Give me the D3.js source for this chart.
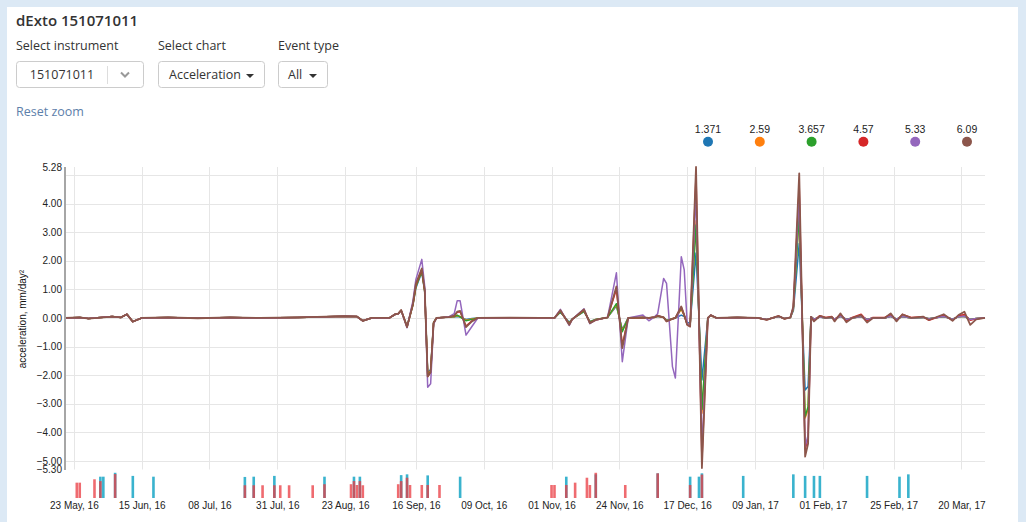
<!DOCTYPE html>
<html>
<head>
<meta charset="utf-8">
<script src="https://cdnjs.cloudflare.com/ajax/libs/d3/7.8.5/d3.min.js"></script>
<style>
  body { margin: 0; background: #dce9f5; }
  svg { display: block; }
  .ui { font-family: "Open Sans", sans-serif; fill: #333; }
  .chart text { font-family: "Liberation Sans", Arial, sans-serif; }
</style>
</head>
<body>
<svg id="page" width="1026" height="522"></svg>
<script>
// series (legend labels = sensor depth)
const seriesNames = ["1.371", "2.59", "3.657", "4.57", "5.33", "6.09"];

const dates = [
  "2016-05-20","2016-05-25","2016-05-28","2016-06-05","2016-06-08","2016-06-10","2016-06-12","2016-06-15","2016-06-24","2016-07-04",
  "2016-07-15","2016-07-25","2016-08-07","2016-08-23","2016-08-27","2016-08-29","2016-09-01","2016-09-07","2016-09-09","2016-09-10",
  "2016-09-11","2016-09-13","2016-09-15","2016-09-16","2016-09-18","2016-09-19","2016-09-20","2016-09-21","2016-09-22","2016-09-23",
  "2016-09-27","2016-09-29","2016-09-30","2016-10-01","2016-10-03","2016-10-05","2016-10-07","2016-10-18","2016-10-28","2016-11-02",
  "2016-11-04","2016-11-07","2016-11-08","2016-11-12","2016-11-14","2016-11-16","2016-11-20","2016-11-23","2016-11-25","2016-11-27",
  "2016-12-02","2016-12-04","2016-12-06","2016-12-07","2016-12-09","2016-12-10","2016-12-12","2016-12-13","2016-12-15","2016-12-16",
  "2016-12-17","2016-12-18","2016-12-20","2016-12-22","2016-12-24","2016-12-25","2016-12-27","2017-01-03","2017-01-10","2017-01-13",
  "2017-01-17","2017-01-19","2017-01-21","2017-01-22","2017-01-24","2017-01-26","2017-01-27","2017-01-28","2017-01-29","2017-01-31",
  "2017-02-02","2017-02-04","2017-02-05","2017-02-07","2017-02-09","2017-02-11","2017-02-14","2017-02-16","2017-02-18","2017-02-22",
  "2017-02-24","2017-02-26","2017-02-28","2017-03-03","2017-03-07","2017-03-09","2017-03-14","2017-03-17","2017-03-19","2017-03-21",
  "2017-03-23","2017-03-25","2017-03-28"
];

const s1371 = [
  0, 0.02, -0.02, 0.05, 0.02, 0.13, -0.13, 0, 0.02, -0.01,
  0.02, 0, 0.02, 0.06, 0.05, -0.1, 0, 0, 0.13, 0.15,
  0.26, -0.3, 0.45, 1.05, 1.6, 0.9, -1.92, -1.8, -0.15, 0,
  0.03, 0.03, 0.05, 0.03, -0.05, -0.02, 0, 0.01, 0, 0,
  0.2, -0.15, -0.04, 0.22, -0.12, -0.05, 0.02, 0.42, -0.4, 0,
  0.02, 0, 0.02, 0.05, 0.02, -0.08, -0.03, 0, 0.1, 0.05,
  -0.15, -0.2, 2.27, -2.17, 0, 0.08, 0, 0.02, 0, -0.05,
  0.05, -0.02, 0.02, 0.25, 2.6, -2.52, -2.4, 0.04, -0.04, 0.03,
  0, 0.02, -0.04, 0.06, -0.05, 0, 0.05, -0.05, 0, 0,
  0.06, -0.04, 0.05, 0, 0.02, -0.03, 0.05, -0.04, 0.04, 0.06,
  -0.05, -0.02, 0
];
const s259 = [
  0, 0.02, -0.02, 0.05, 0.02, 0.13, -0.13, 0, 0.02, -0.01,
  0.02, 0, 0.02, 0.06, 0.05, -0.1, 0, 0, 0.13, 0.15,
  0.27, -0.3, 0.45, 1.1, 1.65, 0.92, -1.97, -1.85, -0.16, 0,
  0.03, 0.04, 0.08, 0.05, -0.08, -0.04, 0, 0.01, 0, 0,
  0.22, -0.18, -0.04, 0.24, -0.14, -0.05, 0.02, 0.46, -0.44, 0,
  0.02, 0, 0.02, 0.06, 0.02, -0.1, -0.03, 0, 0.3, 0.08,
  -0.2, -0.26, 3.4, -3.33, 0, 0.08, 0, 0.02, 0, -0.05,
  0.05, -0.02, 0.02, 0.3, 3.7, -3.5, -3.2, 0.04, -0.04, 0.03,
  0, 0.02, -0.04, 0.06, -0.05, 0, 0.05, -0.05, 0, 0,
  0.06, -0.04, 0.05, 0, 0.02, -0.03, 0.05, -0.04, 0.04, 0.06,
  -0.05, -0.02, 0
];
const s3657 = [
  0, 0.02, -0.02, 0.05, 0.02, 0.13, -0.13, 0, 0.02, -0.01,
  0.02, 0, 0.02, 0.06, 0.05, -0.1, 0, 0, 0.13, 0.15,
  0.27, -0.3, 0.48, 1.1, 1.65, 0.95, -2.0, -1.88, -0.17, 0,
  0.03, 0.05, 0.1, 0.04, -0.1, -0.05, 0, 0.01, 0, 0,
  0.22, -0.18, -0.04, 0.24, -0.14, -0.05, 0.02, 0.5, -0.48, 0,
  0.02, 0, 0.03, 0.07, 0.02, -0.1, -0.03, 0, 0.34, 0.1,
  -0.22, -0.28, 3.25, -3.2, 0, 0.1, 0, 0.02, 0, -0.05,
  0.05, -0.02, 0.02, 0.32, 3.6, -3.45, -3.1, 0.04, -0.04, 0.03,
  0, 0.02, -0.04, 0.06, -0.05, 0, 0.05, -0.05, 0, 0,
  0.06, -0.04, 0.05, 0, 0.02, -0.03, 0.05, -0.04, 0.04, 0.06,
  -0.05, -0.02, 0
];
const s457 = [
  0, 0.02, -0.02, 0.05, 0.02, 0.13, -0.13, 0, 0.02, -0.01,
  0.02, 0, 0.02, 0.06, 0.05, -0.1, 0, 0, 0.13, 0.15,
  0.27, -0.32, 0.5, 1.15, 1.7, 0.97, -2.05, -1.9, -0.18, 0,
  0.03, 0.07, 0.2, 0.22, -0.28, -0.1, 0, 0.01, 0, 0,
  0.26, -0.22, -0.05, 0.28, -0.17, -0.07, 0.02, 1.0, -0.95, 0,
  0.02, 0, 0.03, 0.08, 0.02, -0.12, -0.03, 0, 0.38, 0.1,
  -0.24, -0.3, 5.0, -5.0, 0, 0.1, 0, 0.02, 0, -0.06,
  0.07, -0.03, 0.02, 0.38, 4.6, -4.6, -4.2, 0.04, -0.08, 0.08,
  0.02, 0.05, -0.06, 0.12, -0.1, 0.02, 0.13, -0.1, 0.02, 0.02,
  0.12, -0.08, 0.12, 0.02, 0.04, -0.08, 0.1, -0.08, 0.08, 0.12,
  -0.08, -0.03, 0
];
const s533 = [
  0, 0.02, -0.02, 0.05, 0.02, 0.13, -0.13, 0, 0.02, -0.01,
  0.02, 0, 0.02, 0.06, 0.05, -0.1, 0, 0, 0.13, 0.15,
  0.27, -0.34, 0.6, 1.35, 2.05, 1.1, -2.42, -2.3, -0.22, 0,
  0.03, 0.15, 0.6, 0.6, -0.6, -0.3, 0, 0.01, 0, 0,
  0.3, -0.26, -0.05, 0.32, -0.2, -0.07, 0.02, 1.58, -1.53, 0,
  0.1, -0.1, 0.05, 0.15, 1.38, 1.21, -1.7, -2.1, 2.14, 1.68,
  -0.18, -0.3, 4.4, -4.6, 0, 0.1, 0, 0.02, 0, -0.05,
  0.05, -0.02, 0.02, 0.35, 4.3, -4.5, -4.1, 0.04, -0.04, 0.03,
  0, 0.02, -0.04, 0.06, -0.05, 0, 0.05, -0.05, 0, 0,
  0.06, -0.04, 0.05, 0, 0.02, -0.03, 0.05, -0.04, 0.04, 0.06,
  -0.05, -0.02, 0
];
const s609 = [
  0, 0.02, -0.02, 0.05, 0.02, 0.13, -0.13, 0, 0.02, -0.01,
  0.02, 0, 0.02, 0.06, 0.05, -0.1, 0, 0, 0.13, 0.15,
  0.27, -0.32, 0.5, 1.2, 1.73, 0.97, -2.05, -1.9, -0.18, 0,
  0.03, 0.08, 0.22, 0.25, -0.32, -0.12, 0, 0.01, 0, 0,
  0.27, -0.24, -0.05, 0.3, -0.18, -0.07, 0.02, 1.1, -1.05, 0,
  0.02, 0, 0.03, 0.08, 0.02, -0.12, -0.03, 0, 0.4, 0.1,
  -0.24, -0.3, 5.28, -5.25, 0, 0.1, 0, 0.02, 0, -0.07,
  0.07, -0.03, 0.02, 0.4, 5.06, -4.85, -4.4, 0.04, -0.12, 0.07,
  0, 0.04, -0.12, 0.16, -0.15, 0, 0.1, -0.16, 0, 0,
  0.16, -0.12, 0.13, 0, 0.05, -0.07, 0.13, -0.1, 0.1, 0.22,
  -0.24, -0.05, 0
];
const seriesValues = [s1371, s259, s3657, s457, s533, s609];

// events strip under the chart
const redEventDates = ["2016-05-24","2016-05-25","2016-05-30","2016-06-01","2016-06-06","2016-07-20","2016-07-23","2016-07-26",
  "2016-07-30","2016-08-01","2016-08-04","2016-08-12","2016-08-16","2016-08-25","2016-08-26","2016-08-27","2016-08-28","2016-08-29",
  "2016-09-10","2016-09-11","2016-09-13","2016-09-14","2016-09-18","2016-09-20","2016-09-24","2016-11-01","2016-11-02","2016-11-06",
  "2016-11-09","2016-11-13","2016-11-14","2016-11-16","2016-11-26","2016-12-07","2016-12-18","2016-12-22"];
const redEventSize = [5.9, 5.9, 7.2, 6.5, 9.2, 4.9, 4.9, 4.9,
  4.9, 4.9, 4.9, 4.9, 5.3, 5.3, 6.5, 5.0, 6.5, 4.9,
  5.3, 6.5, 7.8, 5.0, 5.0, 5.0, 5.0, 5.0, 5.0, 5.0,
  5.9, 7.8, 5.0, 9.7, 5.0, 9.5, 5.0, 9.0];
const tealEventDates = ["2016-06-01","2016-06-02","2016-06-06","2016-06-12","2016-06-19","2016-07-20","2016-07-23","2016-07-30",
  "2016-08-16","2016-08-26","2016-08-28","2016-09-11","2016-09-13","2016-09-20","2016-10-01","2016-11-06","2016-11-16","2016-12-07",
  "2016-12-18","2016-12-21","2016-12-22","2017-01-05","2017-01-22","2017-01-26","2017-01-29","2017-01-31","2017-02-16","2017-02-27",
  "2017-03-02"];
const tealEventSize = [8.2, 8.2, 9.7, 8.5, 8.2, 8.1, 8.2, 8.5,
  8.2, 8.2, 8.2, 8.8, 9.1, 8.7, 8.2, 8.2, 9.1, 9.5,
  8.2, 8.2, 9.5, 8.5, 9.1, 8.5, 8.5, 8.5, 8.5, 8.2,
  9.1];

const xTickDates = ["2016-05-23","2016-06-15","2016-07-08","2016-07-31","2016-08-23","2016-09-16","2016-10-09",
  "2016-11-01","2016-11-24","2016-12-17","2017-01-09","2017-02-01","2017-02-25","2017-03-20"];
const yTickLabels = [-5.30, -5, -4, -3, -2, -1, 0, 1, 2, 3, 4, 5.28];

const parseDay = d3.timeParse("%Y-%m-%d");
const colors = d3.schemeCategory10;

let svg = d3.select("#page");

// white panel
svg.append("rect").attr("x", 7).attr("y", 7).attr("width", 1011).attr("height", 515).attr("fill", "#fff");

// ---- header controls
let ui = svg.append("g").attr("class", "ui");
ui.append("text").attr("x", 16).attr("y", 26).attr("font-size", 15).attr("font-weight", 600)
  .text("dExto 151071011");

let labels = [["Select instrument", 16], ["Select chart", 158], ["Event type", 278]];
labels.forEach(function(l) {
  ui.append("text").attr("x", l[1]).attr("y", 49.5).attr("font-size", 12.5).text(l[0]);
});

function button(x0, w) {
  ui.append("rect").attr("x", x0 + 0.5).attr("y", 61.5).attr("width", w).attr("height", 26)
    .attr("rx", 3).attr("fill", "#fff").attr("stroke", "#ccc");
}
button(16, 127);
ui.append("text").attr("x", 62).attr("y", 79).attr("font-size", 12.5).attr("text-anchor", "middle").text("151071011");
ui.append("line").attr("x1", 107.5).attr("x2", 107.5).attr("y1", 66).attr("y2", 84).attr("stroke", "#ddd");
ui.append("path").attr("d", "M121,72.5 L125,76.5 L129,72.5").attr("fill", "none").attr("stroke", "#999").attr("stroke-width", 2);

button(158, 106);
ui.append("text").attr("x", 169).attr("y", 79).attr("font-size", 12.5).text("Acceleration");
ui.append("path").attr("d", "M246,74 L254,74 L250,78 Z").attr("fill", "#333");

button(278, 49);
ui.append("text").attr("x", 288).attr("y", 79).attr("font-size", 12.5).text("All");
ui.append("path").attr("d", "M309,74 L317,74 L313,78 Z").attr("fill", "#333");

ui.append("text").attr("x", 16).attr("y", 116).attr("font-size", 12.5).style("fill", "#5d80aa").text("Reset zoom");

// ---- chart
let chart = svg.append("g").attr("class", "chart");

let x = d3.scaleTime()
  .domain([parseDay("2016-05-20"), parseDay("2017-03-28")])
  .range([65, 985]);
let y = d3.scaleLinear().domain([-5.30, 5.28]).range([469.5, 167]);

// grid
chart.append("g").selectAll("line").data(y.ticks(10)).enter().append("line")
  .attr("x1", 65).attr("x2", 985)
  .attr("y1", d => Math.round(y(d)) + 0.5).attr("y2", d => Math.round(y(d)) + 0.5)
  .attr("stroke", "#e6e6e6");
chart.append("g").selectAll("line").data(xTickDates.map(parseDay)).enter().append("line")
  .attr("x1", d => Math.round(x(d)) + 0.5).attr("x2", d => Math.round(x(d)) + 0.5)
  .attr("y1", 167).attr("y2", 469.5)
  .attr("stroke", "#e6e6e6");

// lines
let line = d3.line()
  .x((d, i) => x(parseDay(dates[i])))
  .y(d => y(d));

chart.append("g").selectAll("path").data(seriesValues).enter().append("path")
  .attr("d", d => line(d))
  .attr("fill", "none")
  .attr("stroke", (d, i) => colors[i])
  .attr("stroke-width", (d, i) => i === 5 ? 1.8 : 1.5)
  .attr("stroke-linejoin", "round");

// y axis
chart.append("line").attr("x1", 65).attr("x2", 65).attr("y1", 167).attr("y2", 470)
  .attr("stroke", "#a6a6a6").attr("stroke-width", 2);

let yAxis = d3.axisLeft(y).tickValues(yTickLabels).tickSize(0).tickPadding(3)
  .tickFormat(d3.format(".2f"));
let yg = chart.append("g").attr("transform", "translate(65,0)").call(yAxis);
yg.select(".domain").remove();
yg.selectAll("text").attr("font-family", "Liberation Sans, Arial, sans-serif").attr("font-size", 10).attr("fill", "#222");

chart.append("text")
  .attr("transform", "translate(26,319) rotate(-90)")
  .attr("text-anchor", "middle")
  .attr("font-size", 10)
  .attr("fill", "#111")
  .text("acceleration, mm/day²");

// x axis labels
let xAxis = d3.axisBottom(x).tickValues(xTickDates.map(parseDay)).tickSize(0).tickPadding(0)
  .tickFormat(d3.timeFormat("%d %b, %y"));
let xg = chart.append("g").attr("transform", "translate(0,502)").call(xAxis);
xg.select(".domain").remove();
xg.selectAll("text").attr("font-family", "Liberation Sans, Arial, sans-serif").attr("font-size", 10).attr("fill", "#222");

// legend
let legend = chart.append("g").selectAll("g").data(seriesNames).enter().append("g")
  .attr("transform", (d, i) => `translate(${708 + i * 51.8},0)`);
legend.append("text").attr("y", 133).attr("text-anchor", "middle").attr("font-size", 10.5).attr("fill", "#222").text(d => d);
legend.append("circle").attr("cy", 141.7).attr("r", 5).attr("fill", (d, i) => colors[i]);

// events
let ev = d3.scaleLinear().domain([0, 10]).range([498, 472]);
let evg = chart.append("g");
evg.selectAll("rect.teal").data(tealEventDates).enter().append("rect")
  .attr("class", "teal")
  .attr("x", d => x(parseDay(d)) - 1.3).attr("width", 2.6)
  .attr("y", (d, i) => ev(tealEventSize[i]))
  .attr("height", (d, i) => ev(0) - ev(tealEventSize[i]))
  .attr("fill", "#17a6c6").attr("opacity", 0.85);
evg.selectAll("rect.red").data(redEventDates).enter().append("rect")
  .attr("class", "red")
  .attr("x", d => x(parseDay(d)) - 1.3).attr("width", 2.6)
  .attr("y", (d, i) => ev(redEventSize[i]))
  .attr("height", (d, i) => ev(0) - ev(redEventSize[i]))
  .attr("fill", "#ea3a40").attr("opacity", 0.75);
</script>
</body>
</html>
